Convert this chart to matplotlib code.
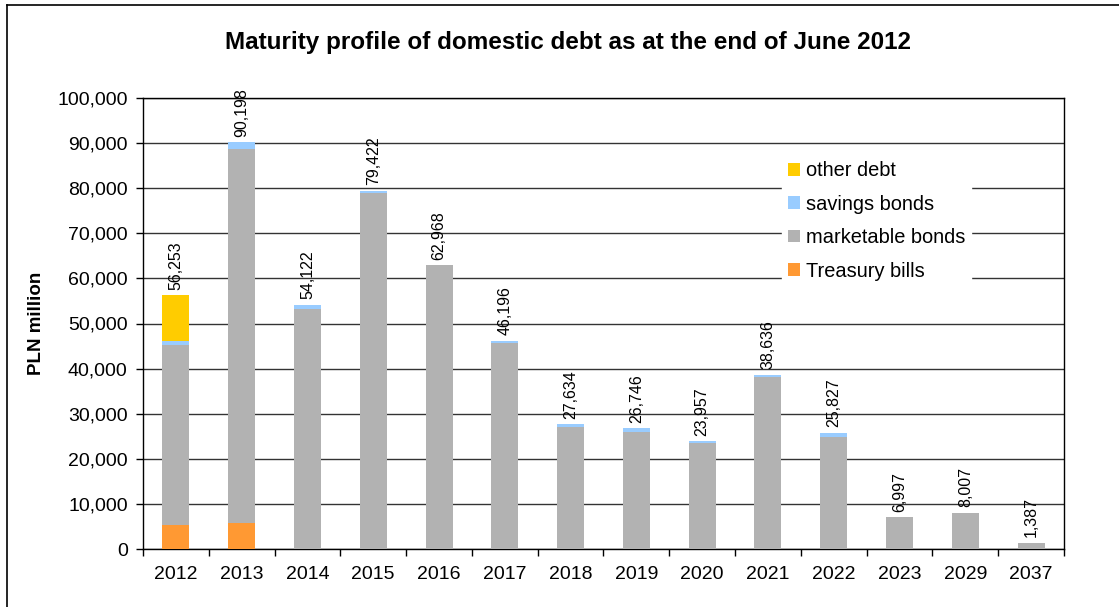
import numpy as np
import matplotlib.pyplot as plt
from matplotlib.ticker import FuncFormatter

plt.rcParams['font.family'] = ['Liberation Sans', 'DejaVu Sans']

years = ['2012', '2013', '2014', '2015', '2016', '2017', '2018',
         '2019', '2020', '2021', '2022', '2023', '2029', '2037']
totals = [56253, 90198, 54122, 79422, 62968, 46196, 27634,
          26746, 23957, 38636, 25827, 6997, 8007, 1387]
treasury_bills = [5300, 5800, 0, 0, 0, 0, 0, 0, 0, 0, 0, 0, 0, 0]
savings_bonds = [900, 1550, 900, 450, 0, 450, 670, 900, 450, 450, 900, 0, 0, 0]
other_debt = [10150, 0, 0, 0, 0, 0, 0, 0, 0, 0, 0, 0, 0, 0]
# marketable bonds = remainder of the total
marketable_bonds = [t - tb - sb - od for t, tb, sb, od in
                    zip(totals, treasury_bills, savings_bonds, other_debt)]

c_tb = '#ff9933'
c_mb = '#b2b2b2'
c_sb = '#99ccff'
c_od = '#ffcc00'

fig = plt.figure(figsize=(11.19, 6.07), dpi=100)
ax = fig.add_axes([143 / 1119, 1 - 549 / 607, (1064 - 143) / 1119, (549 - 98) / 607])

# outer chart border (only left/top are visible)
fig.add_artist(plt.Line2D([7 / 1119, 7 / 1119], [0, 1 - 5 / 607],
                          transform=fig.transFigure, color='black', lw=1.2))
fig.add_artist(plt.Line2D([7 / 1119, 1], [1 - 5 / 607, 1 - 5 / 607],
                          transform=fig.transFigure, color='black', lw=1.2))

x = np.arange(len(years))
w = 0.41
b1 = np.array(treasury_bills)
b2 = b1 + np.array(marketable_bonds)
b3 = b2 + np.array(savings_bonds)

h_tb = ax.bar(x, treasury_bills, w, color=c_tb, zorder=3, label='Treasury bills')
h_mb = ax.bar(x, marketable_bonds, w, bottom=b1, color=c_mb, zorder=3, label='marketable bonds')
h_sb = ax.bar(x, savings_bonds, w, bottom=b2, color=c_sb, zorder=3, label='savings bonds')
h_od = ax.bar(x, other_debt, w, bottom=b3, color=c_od, zorder=3, label='other debt')

for xi, t in zip(x, totals):
    ax.text(xi, t + 1200, f'{t:,}', rotation=90, ha='center', va='bottom',
            fontsize=11.5, zorder=5)

ax.set_ylim(0, 100000)
ax.set_xlim(-0.5, len(years) - 0.5)
ax.set_yticks(np.arange(0, 100001, 10000))
ax.yaxis.set_major_formatter(FuncFormatter(lambda v, p: f'{int(v):,}'))
ax.set_xticks(x)
ax.set_xticklabels(years)
ax.set_xticks(np.arange(-0.5, len(years), 1), minor=True)
ax.tick_params(axis='x', which='major', length=0, labelsize=14, pad=12)
ax.tick_params(axis='x', which='minor', length=5, width=1, direction='out')
ax.tick_params(axis='y', length=5, width=1, labelsize=14, pad=6)
ax.yaxis.grid(True, color='#333333', lw=1, zorder=0)
for s in ax.spines.values():
    s.set_color('black')
    s.set_linewidth(1)

ax.set_ylabel('PLN million', fontsize=13.5, fontweight='bold', labelpad=9)
fig.suptitle('Maturity profile of domestic debt as at the end of June 2012',
             fontsize=17.5, fontweight='bold', x=568 / 1119, y=1 - 42 / 607,
             va='center')

leg = ax.legend([h_od, h_sb, h_mb, h_tb],
                ['other debt', 'savings bonds', 'marketable bonds', 'Treasury bills'],
                loc='upper left', bbox_to_anchor=(0.683, 0.895), frameon=True,
                fontsize=14.4, handlelength=0.6, handleheight=0.6, handletextpad=0.3,
                labelspacing=0.72, borderpad=0.3, fancybox=False)
leg.get_frame().set_edgecolor('white')
leg.get_frame().set_facecolor('white')
leg.get_frame().set_alpha(1)
leg.set_zorder(6)

fig.savefig('out.png', dpi=100, facecolor='white')
